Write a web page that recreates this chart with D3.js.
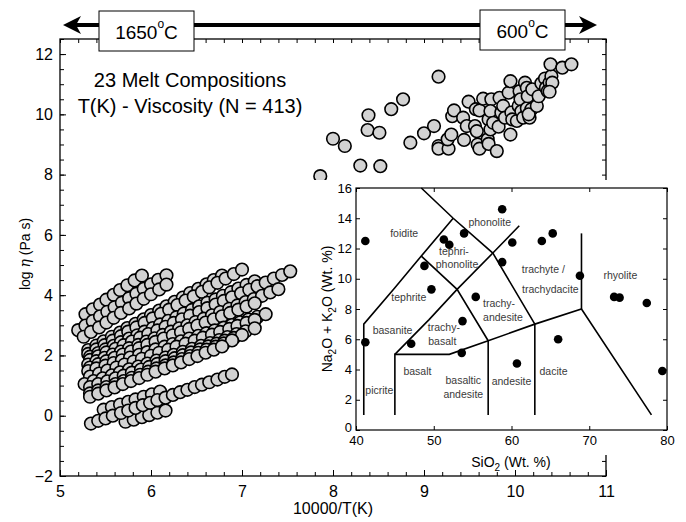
<!DOCTYPE html>
<html lang="en">
<head>
<meta charset="utf-8">
<title>Melt viscosity</title>
<script src="https://d3js.org/d3.v7.min.js"></script>
<style>
body { margin: 0; background: #fff; font-family: "Liberation Sans", Arial, sans-serif; }
.axis text { font-family: "Liberation Sans", Arial, sans-serif; fill: #000; }
.axis path { display: none; }
.axis line { stroke: #000; }
</style>
</head>
<body>
<svg width="686" height="522"></svg>
<script>

// high temperature runs, one row per melt: [10000/T, log eta]
var hotRows = [
  [[5.28,3.37],[5.36,3.53],[5.44,3.69],[5.51,3.85],[5.59,4.01],[5.66,4.17],[5.74,4.33],[5.82,4.49],[5.90,4.65]],
  [[5.20,2.84],[5.28,2.99],[5.36,3.14],[5.44,3.30],[5.52,3.45],[5.60,3.60],[5.68,3.75],[5.76,3.90],[5.84,4.05],[5.92,4.21],[6.00,4.36],[6.08,4.51],[6.17,4.66]],
  [[5.26,2.62],[5.34,2.78],[5.43,2.93],[5.51,3.09],[5.59,3.25],[5.67,3.41],[5.76,3.56],[5.84,3.72],[5.92,3.88],[6.00,4.03],[6.09,4.19],[6.17,4.35]],
  [[5.31,2.18],[5.40,2.33],[5.48,2.47],[5.57,2.62],[5.66,2.76],[5.74,2.91],[5.83,3.05],[5.92,3.20],[6.00,3.34],[6.09,3.49],[6.17,3.63],[6.26,3.78],[6.35,3.92],[6.43,4.07],[6.52,4.21],[6.61,4.36],[6.69,4.50],[6.78,4.65]],
  [[5.31,2.05],[5.40,2.20],[5.49,2.34],[5.58,2.49],[5.67,2.64],[5.75,2.79],[5.84,2.93],[5.93,3.08],[6.02,3.23],[6.11,3.38],[6.20,3.52],[6.29,3.67],[6.38,3.82],[6.47,3.96],[6.56,4.11],[6.64,4.26],[6.73,4.41],[6.82,4.55],[6.91,4.70],[7.00,4.85]],
  [[5.33,1.96],[5.42,2.08],[5.50,2.20],[5.59,2.32],[5.67,2.44],[5.76,2.56],[5.85,2.67],[5.93,2.79],[6.02,2.91],[6.10,3.03],[6.19,3.15],[6.28,3.27],[6.36,3.39],[6.45,3.51],[6.53,3.63],[6.62,3.75],[6.71,3.86],[6.79,3.98],[6.88,4.10],[6.96,4.22],[7.05,4.34],[7.14,4.46]],
  [[5.33,1.85],[5.42,1.97],[5.51,2.10],[5.61,2.22],[5.70,2.34],[5.79,2.46],[5.88,2.59],[5.97,2.71],[6.07,2.83],[6.16,2.95],[6.25,3.08],[6.34,3.20],[6.43,3.32],[6.53,3.44],[6.62,3.57],[6.71,3.69],[6.80,3.81],[6.89,3.93],[6.99,4.06],[7.08,4.18],[7.17,4.30],[7.26,4.42],[7.35,4.55],[7.44,4.67],[7.53,4.79]],
  [[5.31,1.70],[5.40,1.81],[5.49,1.92],[5.58,2.03],[5.67,2.13],[5.76,2.24],[5.86,2.35],[5.95,2.46],[6.04,2.57],[6.13,2.68],[6.22,2.79],[6.31,2.90],[6.40,3.00],[6.49,3.11],[6.58,3.22],[6.67,3.33],[6.76,3.44],[6.86,3.55],[6.95,3.66],[7.04,3.77],[7.13,3.87],[7.22,3.98],[7.31,4.09],[7.40,4.20]],
  [[5.33,1.60],[5.42,1.71],[5.51,1.81],[5.60,1.92],[5.69,2.03],[5.78,2.13],[5.87,2.24],[5.96,2.35],[6.05,2.45],[6.14,2.56],[6.24,2.67],[6.33,2.77],[6.42,2.88],[6.51,2.99],[6.60,3.09],[6.69,3.20],[6.78,3.30],[6.87,3.41],[6.96,3.52],[7.05,3.62],[7.14,3.73]],
  [[5.31,1.48],[5.40,1.57],[5.50,1.66],[5.59,1.75],[5.68,1.84],[5.77,1.93],[5.87,2.02],[5.96,2.11],[6.05,2.20],[6.15,2.29],[6.24,2.38],[6.33,2.47],[6.42,2.56],[6.52,2.65],[6.61,2.74],[6.70,2.83],[6.80,2.92],[6.89,3.01],[6.98,3.10],[7.07,3.19],[7.17,3.28],[7.26,3.37]],
  [[5.33,1.30],[5.43,1.40],[5.52,1.50],[5.62,1.60],[5.71,1.70],[5.81,1.80],[5.90,1.89],[6.00,1.99],[6.09,2.09],[6.19,2.19],[6.28,2.29],[6.38,2.39],[6.48,2.49],[6.57,2.59],[6.67,2.69],[6.76,2.78],[6.86,2.88],[6.95,2.98],[7.05,3.08],[7.14,3.18]],
  [[5.27,1.05],[5.37,1.15],[5.47,1.24],[5.57,1.34],[5.66,1.44],[5.76,1.54],[5.86,1.63],[5.96,1.73],[6.06,1.83],[6.16,1.93],[6.25,2.02],[6.35,2.12],[6.45,2.22],[6.55,2.32],[6.65,2.41],[6.75,2.51],[6.84,2.61],[6.94,2.71],[7.04,2.80],[7.14,2.90]],
  [[5.33,0.95],[5.42,1.05],[5.52,1.14],[5.61,1.24],[5.70,1.33],[5.79,1.43],[5.89,1.53],[5.98,1.62],[6.07,1.72],[6.16,1.81],[6.26,1.91],[6.35,2.01],[6.44,2.10],[6.54,2.20],[6.63,2.30],[6.72,2.39],[6.81,2.49],[6.91,2.58],[7.00,2.68]],
  [[5.33,0.74],[5.42,0.84],[5.51,0.95],[5.61,1.05],[5.70,1.15],[5.79,1.26],[5.88,1.36],[5.97,1.46],[6.06,1.57],[6.16,1.67],[6.25,1.77],[6.34,1.88],[6.43,1.98],[6.52,2.09],[6.61,2.19],[6.71,2.29],[6.80,2.40],[6.89,2.50]],
  [[5.33,0.63],[5.42,0.73],[5.51,0.84],[5.60,0.94],[5.69,1.05],[5.78,1.15],[5.87,1.25],[5.96,1.36],[6.05,1.46],[6.15,1.57],[6.24,1.67],[6.33,1.77],[6.42,1.88],[6.51,1.98],[6.60,2.09],[6.69,2.19],[6.78,2.30]],
  [[5.48,0.20],[5.57,0.29],[5.66,0.37],[5.75,0.46],[5.83,0.54],[5.92,0.63],[6.01,0.71],[6.10,0.80]],
  [[5.72,-0.20],[5.81,-0.13],[5.90,-0.05],[5.98,0.02],[6.07,0.10],[6.16,0.17]],
  [[5.34,-0.26],[5.42,-0.17],[5.50,-0.09],[5.58,0.00],[5.67,0.09],[5.75,0.17],[5.83,0.26],[5.91,0.35],[5.99,0.43],[6.07,0.52],[6.16,0.60],[6.24,0.69],[6.32,0.78],[6.40,0.86],[6.48,0.95],[6.56,1.03],[6.64,1.11],[6.73,1.20],[6.81,1.29],[6.89,1.37]]
];

// low temperature (micropenetration) runs
var coldPts = [
  [7.86,7.95],[8.00,9.19],[8.13,8.95],[8.30,8.30],[8.52,8.28],[8.38,9.48],[8.51,9.39],[8.39,9.97],[8.64,10.17],[8.77,10.50],
  [9.16,11.25],[8.85,9.06],[9.00,9.37],[9.11,9.61],[9.16,8.95],[9.16,8.86],[9.27,8.86],[9.26,9.17],[9.30,9.33],[9.31,9.94],
  [9.33,10.13],[9.43,9.89],[9.44,9.15],[9.47,9.61],[9.49,10.42],[9.56,9.61],[9.58,9.44],[9.57,10.17],[9.59,9.00],[9.61,8.86],
  [9.61,10.13],[9.65,10.52],[9.70,9.17],[9.71,9.02],[9.71,9.83],[9.73,9.50],[9.74,10.50],[9.73,10.11],[9.80,8.78],[9.76,9.72],
  [9.82,9.59],[9.83,10.55],[9.85,10.06],[9.93,10.72],[9.87,10.28],[9.89,9.89],[9.95,9.33],[9.95,11.10],[9.96,10.06],[9.97,9.83],
  [10.02,9.78],[10.04,10.28],[10.05,10.77],[10.06,10.50],[10.07,10.10],[10.09,9.89],[10.11,11.05],[10.13,10.20],[10.13,10.88],[10.14,10.60],
  [10.16,9.89],[10.18,10.17],[10.19,10.83],[10.15,10.00],[10.24,10.28],[10.26,10.60],[10.29,11.03],[10.33,11.19],[10.34,10.88],[10.38,11.05],
  [10.36,10.77],[10.40,11.27],[10.41,11.05],[10.38,10.75],[10.39,11.66],[10.52,11.55],[10.62,11.66]
];

// inset: TAS compositions [SiO2, Na2O+K2O]
var tasPts = [
  [41.2,12.5],[41.2,5.8],[48.8,10.85],[49.7,9.3],[47.1,5.7],[51.3,12.6],[52.0,12.25],[53.9,13.0],[53.7,7.2],[53.6,5.1],
  [55.4,8.8],[58.8,14.6],[60.1,12.4],[58.8,11.1],[60.7,4.4],[63.9,12.5],[65.3,13.0],[66.0,6.0],[68.8,10.2],[73.2,8.8],
  [73.9,8.75],[77.4,8.4],[79.4,3.9]
];

var tasLines = [
  [[41,1],[41,7],[45,9.4],[48.4,11.5],[52.5,14]],
  [[48.4,16],[52.5,14],[57.6,11.7],[63,7]],
  [[63,1],[63,7]],
  [[45,1],[45,5],[52,5],[57,5.9],[63,7],[69,8],[78,1]],
  [[57,1],[57,5.9]],
  [[45,5],[49.4,7.3],[53,9.3],[57.6,11.7],[61,13.5]],
  [[48.4,11.5],[53,9.3],[57,5.9]],
  [[69,8],[69,13]]
];

var tasNames = [
  {t:"foidite", x:46.2, y:13.0}, {t:"phonolite", x:57.2, y:13.75},
  {t:"tephri-", x:52.6, y:11.8}, {t:"phonolite", x:53.0, y:10.95},
  {t:"trachyte /", x:64.1, y:10.6}, {t:"trachydacite", x:65.0, y:9.27},
  {t:"rhyolite", x:74.0, y:10.2}, {t:"tephrite", x:46.8, y:8.8},
  {t:"trachy-", x:58.4, y:8.35}, {t:"andesite", x:58.9, y:7.45},
  {t:"basanite", x:44.7, y:6.6}, {t:"trachy-", x:51.3, y:6.78}, {t:"basalt", x:51.1, y:5.85},
  {t:"basalt", x:47.9, y:3.86}, {t:"basaltic", x:53.8, y:3.3}, {t:"andesite", x:53.8, y:2.36},
  {t:"andesite", x:60.0, y:3.25}, {t:"dacite", x:65.4, y:3.9}, {t:"picrite", x:43.0, y:2.6}
];

var xMajor = [5, 6, 7, 8, 9, 10, 11];
var yMajor = [-2, 0, 2, 4, 6, 8, 10, 12];
var tasXTicks = [40, 50, 60, 70, 80];
var tasYTicks = [0, 2, 4, 6, 8, 10, 12, 14, 16];

var svg = d3.select("svg");
svg.append("rect").attr("width", 686).attr("height", 522).attr("fill", "#fff");

var x = d3.scaleLinear().domain([5, 11]).range([60, 606]);
var y = d3.scaleLinear().domain([-2, 12.5]).range([476, 39]);

// minor ticks
var xMinor = d3.range(25, 56).map(function(d) { return d / 5; });
var yMinor = d3.range(-4, 26).map(function(d) { return d / 2; });

function noLabel() { return ""; }

svg.append("g").attr("class", "axis").attr("transform", "translate(0,476)")
    .call(d3.axisBottom(x).tickValues(xMinor).tickSize(-4).tickFormat(noLabel));
svg.append("g").attr("class", "axis").attr("transform", "translate(0,39)")
    .call(d3.axisTop(x).tickValues(xMinor).tickSize(-4).tickFormat(noLabel));
svg.append("g").attr("class", "axis").attr("transform", "translate(60,0)")
    .call(d3.axisLeft(y).tickValues(yMinor).tickSize(-4).tickFormat(noLabel));
svg.append("g").attr("class", "axis").attr("transform", "translate(606,0)")
    .call(d3.axisRight(y).tickValues(yMinor).tickSize(-4).tickFormat(noLabel));

var xAx = svg.append("g").attr("class", "axis").attr("transform", "translate(0,476)")
    .call(d3.axisBottom(x).tickValues(xMajor).tickSize(-6).tickPadding(10).tickFormat(d3.format("d")));
xAx.selectAll("text").style("font-size", "16px");
var yAx = svg.append("g").attr("class", "axis").attr("transform", "translate(60,0)")
    .call(d3.axisLeft(y).tickValues(yMajor).tickSize(-6).tickPadding(7).tickFormat(d3.format("d")));
yAx.selectAll("text").style("font-size", "16px");

svg.append("rect")
    .attr("x", 60).attr("y", 39).attr("width", 546).attr("height", 437)
    .attr("fill", "none").attr("stroke", "#000").attr("stroke-width", 1.3);

// points
var allHot = [];
hotRows.forEach(function(r) { r.forEach(function(p) { allHot.push(p); }); });

svg.append("g").selectAll("circle")
    .data(allHot.concat(coldPts))
  .enter().append("circle")
    .attr("cx", function(d) { return x(d[0]); })
    .attr("cy", function(d) { return y(d[1]); })
    .attr("r", 6.3)
    .attr("fill", "#d3d3d3")
    .attr("stroke", "#000")
    .attr("stroke-width", 1.6);

// titles
svg.append("text").attr("x", 190).attr("y", 87).attr("text-anchor", "middle")
    .style("font-size", "20px").text("23 Melt Compositions");
svg.append("text").attr("x", 190).attr("y", 113).attr("text-anchor", "middle")
    .style("font-size", "20px").text("T(K) - Viscosity (N = 413)");

svg.append("text").attr("x", 333).attr("y", 514).attr("text-anchor", "middle")
    .style("font-size", "16px").text("10000/T(K)");

var yl = svg.append("text").attr("transform", "translate(30,254) rotate(-90)")
    .attr("text-anchor", "middle").style("font-size", "14px");
yl.append("tspan").text("log ");
yl.append("tspan").style("font-style", "italic").style("font-family", "DejaVu Serif").text("η");
yl.append("tspan").text(" (Pa s)");

// temperature arrow
svg.append("line").attr("x1", 72).attr("x2", 588).attr("y1", 25).attr("y2", 25)
    .attr("stroke", "#000").attr("stroke-width", 4);
svg.append("path").attr("d", "M63,25L81,16L76,25L81,34Z").attr("fill", "#000");
svg.append("path").attr("d", "M597,25L579,16L584,25L579,34Z").attr("fill", "#000");

var boxes = [{t:"1650", x0:99, x1:194, y0:11, y1:51}, {t:"600", x0:480, x1:565, y0:10, y1:50}];
boxes.forEach(function(b) {
  svg.append("rect").attr("x", b.x0).attr("y", b.y0).attr("width", b.x1 - b.x0).attr("height", b.y1 - b.y0)
      .attr("fill", "#fff").attr("stroke", "#000").attr("stroke-width", 1);
  var t = svg.append("text").attr("x", (b.x0 + b.x1) / 2).attr("y", b.y0 + 28)
      .attr("text-anchor", "middle").style("font-size", "19px");
  t.append("tspan").text(b.t);
  t.append("tspan").attr("dy", -11).style("font-size", "12px").text("o");
  t.append("tspan").attr("dy", 11).text("C");
});

// inset TAS diagram
svg.append("rect").attr("x", 303).attr("y", 180).attr("width", 383).attr("height", 275).attr("fill", "#fff");

var tx = d3.scaleLinear().domain([40, 80]).range([356, 667]);
var ty = d3.scaleLinear().domain([0, 16]).range([430, 188]);

var ib = svg.append("g").attr("class", "axis").attr("transform", "translate(0,430)")
    .call(d3.axisBottom(tx).tickValues(tasXTicks).tickSize(-4).tickPadding(6));
ib.selectAll("text").style("font-size", "13px");
svg.append("g").attr("class", "axis").attr("transform", "translate(0,188)")
    .call(d3.axisTop(tx).tickValues(tasXTicks).tickSize(-4).tickFormat(noLabel));
var il = svg.append("g").attr("class", "axis").attr("transform", "translate(356,0)")
    .call(d3.axisLeft(ty).tickValues(tasYTicks).tickSize(-4).tickPadding(4));
il.selectAll("text").style("font-size", "13px");
il.selectAll("text").filter(function(d) { return d === 0; }).attr("dy", "0.1em");
svg.append("g").attr("class", "axis").attr("transform", "translate(667,0)")
    .call(d3.axisRight(ty).tickValues(tasYTicks).tickSize(-4).tickFormat(noLabel));

svg.append("rect").attr("x", 356).attr("y", 188).attr("width", 311).attr("height", 242)
    .attr("fill", "none").attr("stroke", "#000").attr("stroke-width", 1.2);

var tline = d3.line().x(function(d) { return tx(d[0]); }).y(function(d) { return ty(d[1]); });
svg.append("g").selectAll("path")
    .data(tasLines)
  .enter().append("path")
    .attr("d", tline)
    .attr("fill", "none").attr("stroke", "#000").attr("stroke-width", 1.6);

svg.append("g").selectAll("text")
    .data(tasNames)
  .enter().append("text")
    .attr("x", function(d) { return tx(d.x); })
    .attr("y", function(d) { return ty(d.y); })
    .attr("dy", "0.35em")
    .attr("text-anchor", "middle")
    .style("font-size", "10.5px").style("fill", "#3a3a3a")
    .text(function(d) { return d.t; });

svg.append("g").selectAll("circle")
    .data(tasPts)
  .enter().append("circle")
    .attr("cx", function(d) { return tx(d[0]); })
    .attr("cy", function(d) { return ty(d[1]); })
    .attr("r", 4.3)
    .attr("fill", "#000");

var sx = svg.append("text").attr("x", 511).attr("y", 467).attr("text-anchor", "middle").style("font-size", "14px");
sx.append("tspan").text("SiO");
sx.append("tspan").attr("dy", 4).style("font-size", "10px").text("2");
sx.append("tspan").attr("dy", -4).text(" (Wt. %)");

var sy = svg.append("text").attr("transform", "translate(332,309) rotate(-90)")
    .attr("text-anchor", "middle").style("font-size", "14px");
sy.append("tspan").text("Na");
sy.append("tspan").attr("dy", 4).style("font-size", "10px").text("2");
sy.append("tspan").attr("dy", -4).text("O + K");
sy.append("tspan").attr("dy", 4).style("font-size", "10px").text("2");
sy.append("tspan").attr("dy", -4).text("O (Wt. %)");

</script>
</body>
</html>
